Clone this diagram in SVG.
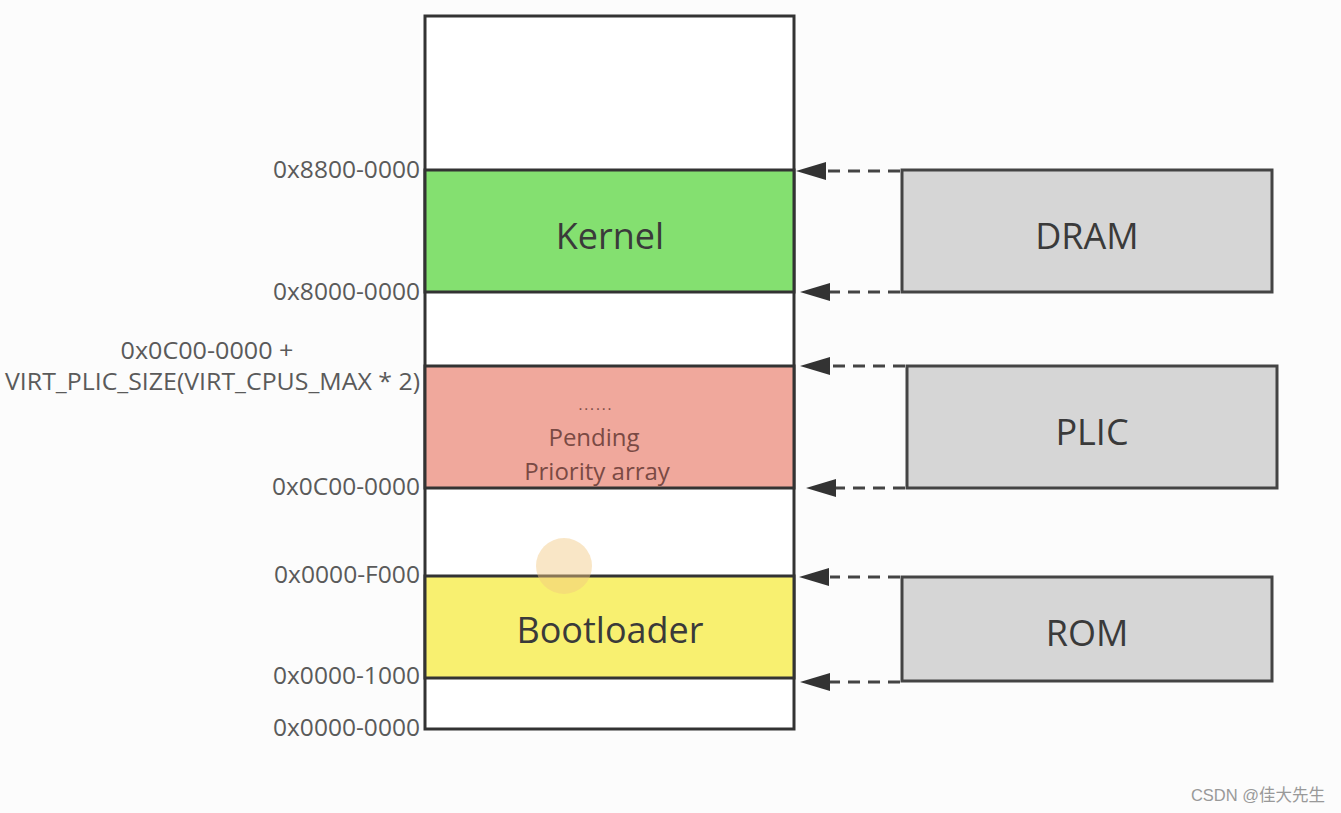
<svg xmlns="http://www.w3.org/2000/svg" width="1341" height="813" viewBox="0 0 1341 813">
<style>
.addr{font-family:"Open Sans","Liberation Sans",sans-serif;font-size:23px;fill:#5a5a5a;text-anchor:end}
.big{font-family:"Open Sans","Liberation Sans",sans-serif;font-size:36px;fill:#3a3a3a;text-anchor:middle}
.small{font-family:"Open Sans","Liberation Sans",sans-serif;font-size:24px;fill:#7a4a44;text-anchor:middle}
.blk{stroke:#333;stroke-width:3}
.dev{fill:#d6d6d6;stroke:#444;stroke-width:3}
.conn{stroke:#444;stroke-width:3;stroke-dasharray:12,8;fill:none}
.head{fill:#333}
</style>
<rect width="1341" height="813" fill="#fcfcfc"/>
<g id="memory">
<rect x="425" y="16" width="369" height="713" fill="#fff" class="blk"/>
</g>
<g id="kernel">
<rect x="425" y="170" width="369" height="122" fill="#84e070" class="blk"/>
<text x="610" y="249" class="big">Kernel</text>
</g>
<g id="plic-region">
<rect x="425" y="366" width="369" height="122" fill="#f0a89c" class="blk"/>
<text x="595" y="410" class="small" style="font-size:15px" textLength="33" lengthAdjust="spacing">......</text>
<text x="594" y="446" class="small">Pending</text>
<text x="597" y="480" class="small">Priority array</text>
</g>
<g id="bootloader">
<rect x="425" y="576" width="369" height="102" fill="#f8f070" class="blk"/>
<text x="610" y="643" class="big">Bootloader</text>
</g>
<circle cx="564" cy="566" r="28" fill="#f2c880" opacity="0.45"/>
<g id="dram">
<rect x="902" y="170" width="370" height="122" class="dev"/>
<text x="1087" y="249" class="big">DRAM</text>
</g>
<g id="plic">
<rect x="907" y="366" width="370" height="122" class="dev"/>
<text x="1092" y="445" class="big">PLIC</text>
</g>
<g id="rom">
<rect x="902" y="577" width="370" height="104" class="dev"/>
<text x="1087" y="646" class="big">ROM</text>
</g>
<g id="labels">
<text x="420" y="178" class="addr" textLength="147" lengthAdjust="spacingAndGlyphs">0x8800-0000</text>
<text x="420" y="300" class="addr" textLength="147" lengthAdjust="spacingAndGlyphs">0x8000-0000</text>
<text x="207" y="359" class="addr" style="text-anchor:middle" textLength="173" lengthAdjust="spacingAndGlyphs">0x0C00-0000 +</text>
<text x="420" y="390" class="addr" textLength="415" lengthAdjust="spacingAndGlyphs">VIRT_PLIC_SIZE(VIRT_CPUS_MAX * 2)</text>
<text x="420" y="495" class="addr" textLength="148" lengthAdjust="spacingAndGlyphs">0x0C00-0000</text>
<text x="420" y="583" class="addr" textLength="146" lengthAdjust="spacingAndGlyphs">0x0000-F000</text>
<text x="420" y="684" class="addr" textLength="147" lengthAdjust="spacingAndGlyphs">0x0000-1000</text>
<text x="420" y="736" class="addr" textLength="147" lengthAdjust="spacingAndGlyphs">0x0000-0000</text>
</g>
<g id="connectors">
<path d="M900,171 H826" class="conn"/>
<polygon points="796,171 826,162 826,180" class="head"/>
<path d="M900,292 H830" class="conn"/>
<polygon points="800,292 830,283 830,301" class="head"/>
<path d="M905,366 H830" class="conn"/>
<polygon points="800,366 830,357 830,375" class="head"/>
<path d="M905,488 H836" class="conn"/>
<polygon points="806,488 836,479 836,497" class="head"/>
<path d="M900,577 H830" class="conn"/>
<polygon points="799,577 829,568 829,586" class="head"/>
<path d="M900,682 H830" class="conn"/>
<polygon points="800,682 830,673 830,691" class="head"/>
</g>
<text x="1325" y="801" style="font-family:'Liberation Sans','Noto Sans CJK SC',sans-serif;font-size:16.5px;fill:#999;text-anchor:end">CSDN @佳大先生</text>
</svg>
